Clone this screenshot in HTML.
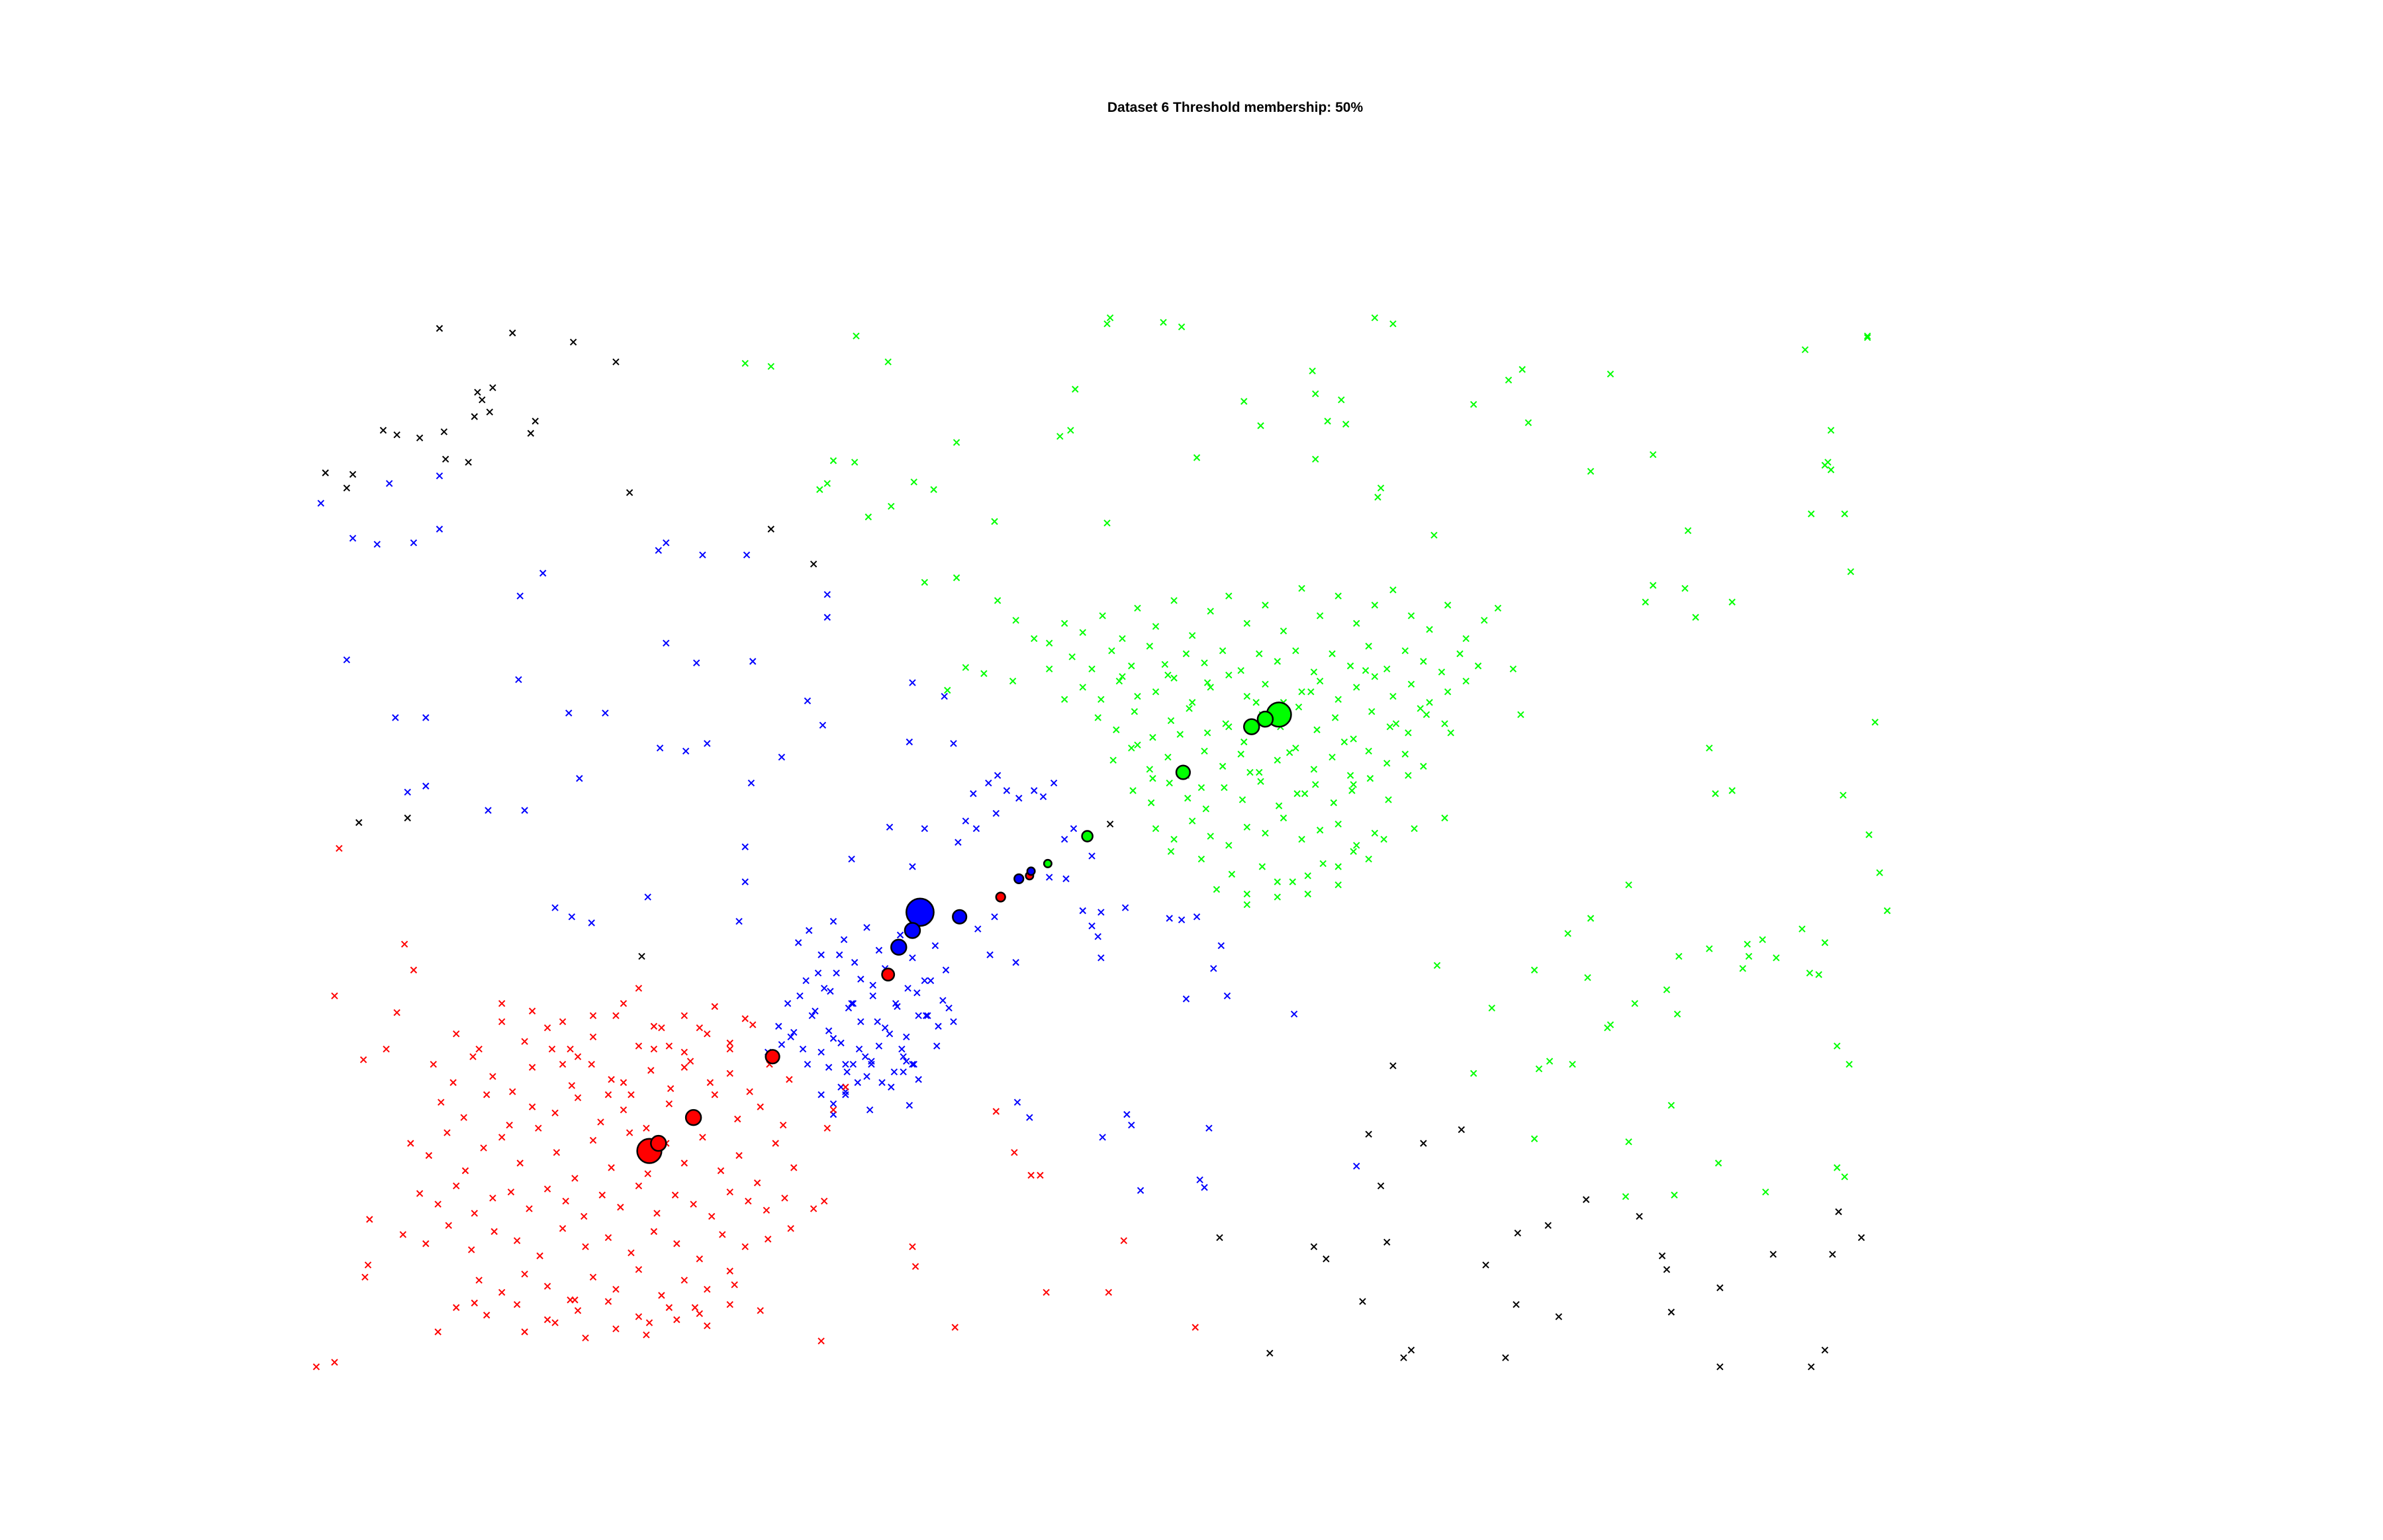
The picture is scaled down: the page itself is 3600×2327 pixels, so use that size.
<!DOCTYPE html>
<html><head><meta charset="utf-8"><style>
html,body{margin:0;padding:0;background:#fff;}
svg{display:block;}
</style></head><body>
<svg id="chart" width="3600" height="2327" xmlns="http://www.w3.org/2000/svg">
<rect width="3600" height="2327" fill="#fff"/>
<text x="1866" y="169" text-anchor="middle" font-family="Liberation Sans, sans-serif" font-weight="bold" font-size="21" fill="#000">Dataset 6 Threshold membership: 50%</text>
<g id="marks"></g>
</svg>
<script>
const blackX=[289,337,377,405,314,324,317,312,322,352,349,252,261,276,292,293,308,214,232,228,414,507,535,236,268,422,730,916,900,961,936,908,802,864,872,912,977,998,1018,1043,1078,1093,1096,1166,1205,1224,1209,1131,997,1025,896,1099,835,923,928,990,1131,1191,1200];
const blackY=[216,219,225,238,258,255,263,274,271,277,285,283,286,288,284,302,304,311,312,321,324,348,371,541,538,629,542,701,746,743,752,780,814,820,828,817,832,811,806,789,800,826,835,825,825,814,797,847,858,866,856,863,890,893,888,893,899,899,888];
const blueX=[211,232,256,289,248,272,289,342,357,438,433,462,491,544,544,228,260,280,341,374,398,438,458,495,531,541,514,494,434,451,465,381,268,280,321,345,490,490,426,365,376,389,486,600,621,598,608,585,627,724,741,744,725,750,789,792,795,669,677,892,780,807,851,798,803,769,787,777,740,724,718,722,712,668,651,643,654,690,701,718,700,706,680,693,686,656,662,640,642,630,670,650,635,655,560,600,556,548,556,573,598,594,600,
525,532,540,548,555,562,570,578,585,592,600,608,615,622,530,538,546,552,560,566,574,582,590,597,604,612,620,627,518,526,534,542,550,558,566,574,582,589,596,603,610,617,624,512,520,528,536,545,553,561,569,577,585,593,601,609,616,505,514,522,531,540,548,557,565,573,580,588,596,604,545,553,561,570,578,586,594,540,548,556,564,572,580];
const blueY=[331,354,318,313,358,357,348,392,377,357,362,365,365,391,406,434,472,472,447,469,469,423,436,435,461,477,498,515,492,494,489,512,521,517,533,533,557,580,590,597,603,607,606,449,458,488,545,544,489,630,733,740,748,783,776,781,742,725,735,767,657,655,667,637,622,604,603,605,597,600,609,616,599,633,628,611,603,577,578,563,552,545,520,515,524,510,520,522,545,554,525,515,540,535,565,570,720,733,700,700,727,705,700,
620,612,628,606,618,633,610,625,640,615,630,645,622,638,645,640,652,628,660,644,655,637,662,650,668,645,658,672,660,655,668,650,640,663,672,648,676,660,682,653,668,675,663,675,682,690,665,678,686,660,695,672,680,690,700,668,688,692,687,679,700,692,683,705,690,698,712,705,698,710,702,715,700,708,688,715,695,720,726,718,712,730];
const greenX=[490,507,563,584,730,728,777,765,904,916,863,1059,1001,992,969,1005,1187,1228,818,829,885,882,873,865,707,704,697,548,544,562,539,629,601,614,586,571,654,728,787,865,908,906,943,1046,1087,1204,1202,1191,1213,1110,1108,1139,1217,1204,1082,1087,1115,1228,1200,1233,1124,1128,1139,1212,1229,1236,1241,1200,1159,1150,1146,1124,1104,1096,1185,1196,1046,1071,1031,1009,981,945,969,1012,1034,1059,1075,1103,1149,1168,1190,1208,1216,1044,1019,1057,1071,1130,1208,1213,1069,1101,1161,1099,1009,608,629,656,668,690,666,647,635,623,
700,712,725,738,748,760,772,784,796,808,820,832,844,856,868,880,892,904,916,928,940,952,964,976,
705,718,731,744,756,768,780,792,804,816,828,840,852,864,876,888,900,912,924,936,948,960,972,
712,724,736,748,760,772,784,796,808,820,832,844,856,868,880,892,904,916,928,940,952,964,
722,734,746,758,770,782,794,806,818,830,842,854,866,878,890,902,914,926,938,950,
732,744,756,768,780,792,804,816,828,840,852,864,876,888,900,912,924,936,
745,757,769,781,793,805,817,829,841,853,865,877,889,901,913,
760,772,784,796,808,820,832,844,856,868,880,892,904,
680,690,700,985,995,1000,770,790,810,830,850,870,890,910,930,950,800,820,840,860,880,900,820,840,860,880,
738,766,794,826,862,898,934,748,776,808,848,884,918,954,758,790,822,858,890,926];
const greenY=[239,241,221,238,209,213,215,212,209,213,244,246,243,250,266,278,230,222,264,280,279,263,277,259,256,283,287,303,318,304,322,291,317,322,333,340,343,344,301,302,321,327,352,310,299,283,304,338,338,349,387,396,376,309,396,385,406,221,306,475,492,522,520,523,549,574,599,620,618,629,637,624,629,651,611,641,604,582,614,638,663,635,706,703,700,674,660,667,621,630,640,688,700,643,698,676,751,765,768,774,787,786,784,727,749,383,380,395,408,423,448,443,439,454,
410,416,405,420,400,412,395,418,402,392,410,398,415,387,405,392,410,398,388,405,414,398,420,408,
432,440,428,438,425,444,430,436,428,441,430,435,428,442,430,438,425,440,428,435,442,430,438,
452,460,448,458,455,446,462,452,444,458,450,462,455,448,460,452,445,458,450,462,455,448,
472,480,468,485,474,466,482,476,488,470,478,465,480,472,486,468,478,482,470,476,
500,492,506,498,510,494,504,496,508,500,492,506,498,510,494,502,496,504,
520,528,515,525,532,518,526,514,530,522,516,528,520,512,526,
545,552,540,550,556,544,548,538,552,546,542,556,548,
420,440,460,400,440,470,560,565,575,570,580,568,560,552,545,538,585,588,580,576,570,565,595,590,588,582,
445,437,449,462,455,441,466,490,483,478,495,488,476,482,512,518,508,522,516,510];
const redX=[223,220,266,272,239,254,261,208,220,243,242,240,312,540,628,688,729,786,739,684,667,600,602,655,678,535,542,548,544,556,
270,282,294,306,318,330,342,354,366,378,390,402,414,426,438,450,462,474,486,498,510,522,
276,288,300,312,324,336,348,360,372,384,396,408,420,432,444,456,468,480,492,504,516,
265,280,295,310,325,340,355,370,385,400,415,430,445,460,475,490,505,520,
285,298,311,324,337,350,363,376,389,402,415,428,441,454,467,480,493,506,519,
300,315,330,345,360,375,390,405,420,435,450,465,480,495,
290,305,320,335,350,365,380,395,410,425,440,455,470,485,500,515,
315,330,345,360,375,390,405,420,435,450,465,480,
300,320,340,360,380,400,420,440,460,480,500,
330,350,370,390,410,430,450,470,490,
345,365,385,405,425,445,465,
288,378,427,457,483,380,420,440,460,370,400,430,410,450,480];
const redY=[558,655,621,638,697,690,666,899,896,802,832,840,857,882,873,850,850,873,816,773,758,820,833,731,773,795,790,730,742,715,
752,760,745,770,755,748,765,742,758,775,750,768,745,772,752,765,748,770,760,778,752,768,
785,792,780,798,788,784,795,782,790,800,786,794,780,798,786,792,800,784,790,796,788,
812,818,806,822,810,816,826,808,820,814,824,810,818,828,812,820,815,808,
700,712,695,708,718,702,690,714,700,710,720,704,716,698,712,706,718,700,710,
680,690,672,685,676,690,682,668,688,676,692,680,686,674,
725,735,720,740,728,732,722,738,730,742,726,734,720,736,728,740,
842,850,838,846,855,840,848,835,852,842,848,836,
860,865,858,868,862,856,866,860,864,858,862,
660,665,672,668,660,675,668,662,670,
876,870,880,874,878,868,872,
876,855,870,860,845,695,650,688,676,700,720,690,712,702,690];
const circlesX=[427,433,456,508,584,658,677,605,600,591,631,670,678,841,832,823,778,715,689];
const circlesY=[757,752,735,695,641,590,576,600,612,623,603,578,573,470,473,478,508,550,568];
const circlesR=[8,5,5,4.5,4,3,2.5,9,5,5,4.5,3,2.5,8,5,5,4.5,3.5,2.5];
const circlesC=["red","red","red","red","red","red","red","blue","blue","blue","blue","blue","blue","lime","lime","lime","lime","lime","lime"];

const K=3600/1567;
const xs=v=>v*K, ys=v=>v*K;
const NS="http://www.w3.org/2000/svg";
const g=document.getElementById('marks');
function drawX(X,Y,color,name){
  const grp=document.createElementNS(NS,'g');
  
  
  for(let i=0;i<X.length;i++){
    const cx=xs(X[i]),cy=ys(Y[i]),h=4.5;
    const p=document.createElementNS(NS,'path');
    p.setAttribute('d',`M${cx-h},${cy-h}L${cx+h},${cy+h}M${cx-h},${cy+h}L${cx+h},${cy-h}`);
    p.setAttribute('stroke',color);p.setAttribute('stroke-width','2');p.setAttribute('fill','none');
    
    
    grp.appendChild(p);
  }
  g.appendChild(grp);
}
drawX(blackX,blackY,'#000','noise-points');
drawX(blueX,blueY,'#0000ff','cluster-blue-points');
drawX(greenX,greenY,'#00ff00','cluster-green-points');
drawX(redX,redY,'#ff0000','cluster-red-points');
const cg=document.createElementNS(NS,'g');


for(let i=0;i<circlesX.length;i++){
  const c=document.createElementNS(NS,'circle');
  c.setAttribute('cx',xs(circlesX[i]));c.setAttribute('cy',ys(circlesY[i]));
  c.setAttribute('r',circlesR[i]*K);c.setAttribute('fill',circlesC[i]);
  c.setAttribute('stroke','#000');c.setAttribute('stroke-width','2.5');
  
  
  cg.appendChild(c);
}
g.appendChild(cg);
</script>
</body></html>
